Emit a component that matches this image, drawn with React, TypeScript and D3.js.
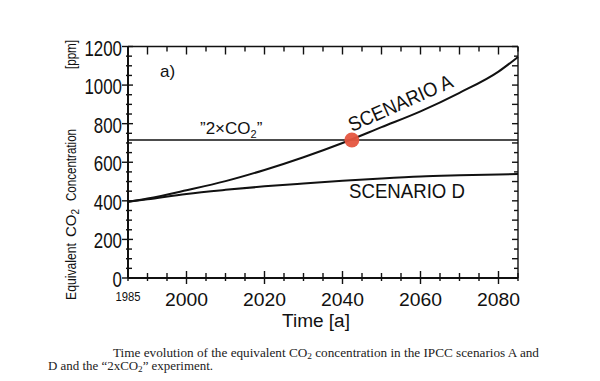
import React from "react";
import * as d3 from "d3";

const years = [1985, 1990, 2000, 2010, 2020, 2030, 2040, 2050, 2060, 2070, 2080, 2085];
const scenarioA = [395, 412, 455, 502, 560, 626, 700, 782, 864, 960, 1070, 1146];
const scenarioD = [395, 408, 436, 457, 475, 490, 504, 516, 526, 532, 537, 539];
const doubleCO2 = 715;
const crossing = { year: 2042.4, value: 715 };
const yTickLabels = [0, 200, 400, 600, 800, 1000, 1200];
const xTickLabels = [2000, 2020, 2040, 2060, 2080];

const W = 600, H = 381;
const L = 128, R = 518, T = 46.5, B = 278;

export default function App() {
  const x = d3.scaleLinear().domain([1985, 2085]).range([L, R]);
  const y = d3.scaleLinear().domain([0, 1200]).range([B, T]);
  const line = d3
    .line<[number, number]>()
    .x((d) => x(d[0]))
    .y((d) => y(d[1]))
    .curve(d3.curveMonotoneX);
  const aPts = years.map((yr, i) => [yr, scenarioA[i]] as [number, number]);
  const dPts = years.map((yr, i) => [yr, scenarioD[i]] as [number, number]);

  const sans = "'Liberation Sans', Arial, sans-serif";
  const serif = "'Liberation Serif', 'DejaVu Serif', serif";

  const yMinor = d3.range(0, 1201, 50);
  const xMinor = d3.range(1985, 2086, 5);

  return (
    <svg width={W} height={H} style={{ position: "absolute", left: 0, top: 0, background: "#fff" }}>
      <rect width={W} height={H} fill="#fff" />
      {/* frame */}
      <g stroke="#111" fill="none">
        <line x1={L} y1={T} x2={L} y2={B} strokeWidth={2} />
        <line x1={L} y1={B} x2={R} y2={B} strokeWidth={2} />
        <line x1={L} y1={T} x2={R} y2={T} strokeWidth={1.4} />
        <line x1={R} y1={T} x2={R} y2={B} strokeWidth={1.4} />
      </g>
      {/* ticks */}
      <g stroke="#111" strokeWidth={1.4}>
        {yMinor.map((v) =>
          v % 200 === 0 ? (
            <line key={v} x1={L - 6} x2={L + 5} y1={y(v)} y2={y(v)} />
          ) : (
            <line key={v} x1={L - 2} x2={L + 4} y1={y(v)} y2={y(v)} />
          )
        )}
        {yMinor.map((v) => (
          <line key={"r" + v} x1={R} x2={R - (v % 100 === 0 ? 6 : 4)} y1={y(v)} y2={y(v)} />
        ))}
        {xMinor.map((yr) => (
          <line key={"t" + yr} x1={x(yr)} x2={x(yr)} y1={T} y2={T + (yr % 10 === 0 ? 8 : 5)} />
        ))}
        {xMinor.map((yr) => {
          const major = yr % 20 === 0;
          return (
            <line key={"b" + yr} x1={x(yr)} x2={x(yr)} y1={B + (major ? 6 : 3)} y2={B - (major ? 7 : 5)} />
          );
        })}
      </g>
      {/* y tick labels */}
      <g fontFamily={sans} fontSize={22} fill="#111">
        {yTickLabels.map((v) => {
          const s = String(v);
          const w = s.length * 9.4;
          return (
            <text key={v} x={L - 6} y={y(v) + 9} textAnchor="end" textLength={w} lengthAdjust="spacingAndGlyphs">
              {s}
            </text>
          );
        })}
      </g>
      {/* x tick labels */}
      <g fontFamily={sans} fontSize={19} fill="#111">
        {xTickLabels.map((v) => (
          <text key={v} x={x(v)} y={306} textAnchor="middle" textLength={43} lengthAdjust="spacingAndGlyphs">
            {v}
          </text>
        ))}
        <text x={x(1985)} y={301} textAnchor="middle" fontSize={12} textLength={25} lengthAdjust="spacingAndGlyphs">
          1985
        </text>
        <text x={316} y={327} textAnchor="middle" fontSize={18} textLength={68} lengthAdjust="spacingAndGlyphs">
          Time [a]
        </text>
      </g>
      {/* y axis title */}
      <g fontFamily={sans} fontSize={15} fill="#111">
        <text transform="translate(76,300) rotate(-90)" textLength={57} lengthAdjust="spacingAndGlyphs">
          Equivalent
        </text>
        <text transform="translate(76,237) rotate(-90)">
          CO<tspan fontSize={10} dy={3}>2</tspan>
        </text>
        <text transform="translate(76,201) rotate(-90)" textLength={72} lengthAdjust="spacingAndGlyphs">
          Concentration
        </text>
        <text transform="translate(76,69) rotate(-90)" textLength={29} lengthAdjust="spacingAndGlyphs">
          [ppm]
        </text>
      </g>
      {/* series */}
      <line x1={x(1985)} x2={x(2085)} y1={y(doubleCO2)} y2={y(doubleCO2)} stroke="#111" strokeWidth={1.4} />
      <path d={line(dPts) || ""} fill="none" stroke="#111" strokeWidth={2} />
      <path d={line(aPts) || ""} fill="none" stroke="#111" strokeWidth={2} />
      <circle cx={x(crossing.year)} cy={y(crossing.value)} r={7.5} fill="#e5553f" opacity={0.95} />
      {/* annotations */}
      <g fontFamily={sans} fill="#111">
        <text x={160} y={77} fontSize={17}>a)</text>
        <text x={200} y={134} fontSize={17}>
          ”2×CO<tspan fontSize={11} dy={4}>2</tspan>
          <tspan dy={-4}>”</tspan>
        </text>
        <text x={349} y={198} fontSize={20} textLength={116} lengthAdjust="spacingAndGlyphs">
          SCENARIO D
        </text>
        <text transform="translate(352,132) rotate(-24)" fontSize={20} textLength={112} lengthAdjust="spacingAndGlyphs">
          SCENARIO A
        </text>
      </g>
      {/* caption */}
      <g fontFamily={serif} fontSize={12} fill="#222">
        <text x={113} y={357} textLength={426} lengthAdjust="spacingAndGlyphs">
          Time evolution of the equivalent CO<tspan fontSize={8.5} dy={2}>2</tspan>
          <tspan dy={-2}> concentration in the IPCC scenarios A and</tspan>
        </text>
        <text x={48} y={370} textLength={165} lengthAdjust="spacingAndGlyphs">
          D and the “2xCO<tspan fontSize={8.5} dy={2}>2</tspan>
          <tspan dy={-2}>” experiment.</tspan>
        </text>
      </g>
    </svg>
  );
}
